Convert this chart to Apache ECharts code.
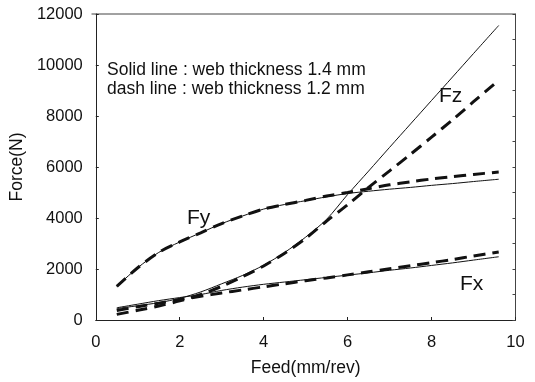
<!DOCTYPE html>
<html>
<head>
<meta charset="utf-8">
<script src="https://cdn.jsdelivr.net/npm/echarts@6/dist/echarts.min.js"></script>
<style>
  html, body { margin: 0; padding: 0; background: #fff; }
  #chart { width: 535px; height: 382px; }
</style>
</head>
<body>
<div id="chart"></div>
<script>
// feed values (mm/rev)
var feed = [0.5, 1, 1.5, 2, 2.5, 3, 3.5, 4, 4.5, 5, 5.5, 6, 6.5, 7, 7.5, 8, 8.5, 9, 9.6]

// web thickness 1.4 mm (solid)
var fxSolid = [480, 620, 760, 880, 1000, 1160, 1290, 1400, 1490, 1580, 1670, 1760, 1850, 1950, 2040, 2140, 2240, 2350, 2480]
var fySolid = [1320, 2050, 2650, 3060, 3420, 3780, 4080, 4350, 4530, 4680, 4830, 4960, 5050, 5130, 5200, 5280, 5350, 5430, 5520]
var fzSolid = [450, 560, 680, 850, 1100, 1420, 1750, 2150, 2650, 3250, 3950, 4920, 5840, 6770, 7690, 8610, 9530, 10450, 11550]

// web thickness 1.2 mm (dashed)
var fxDash = [370, 520, 660, 800, 930, 1060, 1180, 1300, 1420, 1540, 1650, 1770, 1890, 2010, 2130, 2250, 2370, 2510, 2670]
var fyDash = [1320, 2050, 2650, 3060, 3420, 3780, 4080, 4350, 4530, 4690, 4860, 5000, 5150, 5300, 5420, 5530, 5620, 5710, 5800]
var fzDash = [220, 380, 550, 750, 1000, 1320, 1700, 2120, 2620, 3200, 3880, 4520, 5200, 5850, 6500, 7170, 7850, 8560, 9400]

var xTicks = [0, 2, 4, 6, 8, 10]
var yTicks = [0, 2000, 4000, 6000, 8000, 10000, 12000]

function pairs(ys) {
  return feed.map(function(x, i) { return [x, ys[i]] })
}

var font = 'Liberation Sans, Arial, sans-serif'

function solid(name, ys) {
  return {
    name: name, type: 'line', data: pairs(ys), smooth: 0.3, symbol: 'none',
    lineStyle: { color: '#111', width: 1 }
  }
}
function dashed(name, ys) {
  return {
    name: name, type: 'line', data: pairs(ys), smooth: 0.3, symbol: 'none',
    lineStyle: { color: '#111', width: 3, type: [12, 7] }
  }
}

var myChart = echarts.init(document.getElementById('chart'))

myChart.setOption({
  animation: false,
  backgroundColor: '#fff',
  textStyle: { fontFamily: font },
  grid: { left: 91.5, right: 19.5, top: 14, bottom: 58 },
  xAxis: {
    type: 'value', min: 0, max: 10, interval: 2,
    name: 'Feed(mm/rev)', nameLocation: 'middle', nameGap: 39,
    nameTextStyle: { fontSize: 17.5, color: '#111', fontFamily: font },
    axisLine: { lineStyle: { color: '#222', width: 1 } },
    axisTick: { inside: true, length: 3, lineStyle: { color: '#222' } },
    axisLabel: { fontSize: 16.5, color: '#111', margin: 14, fontFamily: font },
    splitLine: { show: false }
  },
  yAxis: [{
    type: 'value', min: 0, max: 12000, interval: 2000,
    name: 'Force(N)', nameLocation: 'middle', nameGap: 57,
    nameTextStyle: { fontSize: 17.5, color: '#111', fontFamily: font },
    axisLine: { lineStyle: { color: '#222', width: 1 } },
    axisTick: { inside: true, length: 3, lineStyle: { color: '#222' } },
    axisLabel: {
      fontSize: 16.5, color: '#111', margin: 13, fontFamily: font,
      formatter: function(v) { return String(v) }
    },
    splitLine: { show: false }
  }, {
    type: 'value', min: 0, max: 12000, interval: 1000, position: 'right',
    axisLine: { show: true, lineStyle: { color: '#444', width: 1 } },
    axisTick: { inside: true, length: 3, lineStyle: { color: '#444' } },
    axisLabel: { show: false },
    splitLine: { show: false }
  }],
  graphic: [
    { type: 'line', shape: { x1: 91.5, y1: 14, x2: 515.5, y2: 14 }, style: { stroke: '#444', lineWidth: 1 } },
    { type: 'text', left: 107, top: 61, style: { text: 'Solid line : web thickness 1.4 mm', font: '17.5px ' + font, fill: '#111' } },
    { type: 'text', left: 107, top: 80, style: { text: 'dash line : web thickness 1.2 mm', font: '17.5px ' + font, fill: '#111' } },
    { type: 'text', left: 187, top: 208, style: { text: 'Fy', font: '21px ' + font, fill: '#111' } },
    { type: 'text', left: 439, top: 86, style: { text: 'Fz', font: '21px ' + font, fill: '#111' } },
    { type: 'text', left: 460, top: 274, style: { text: 'Fx', font: '21px ' + font, fill: '#111' } }
  ],
  series: [
    solid('Fx 1.4', fxSolid),
    solid('Fy 1.4', fySolid),
    solid('Fz 1.4', fzSolid),
    dashed('Fx 1.2', fxDash),
    dashed('Fy 1.2', fyDash),
    dashed('Fz 1.2', fzDash)
  ]
})
</script>
</body>
</html>
